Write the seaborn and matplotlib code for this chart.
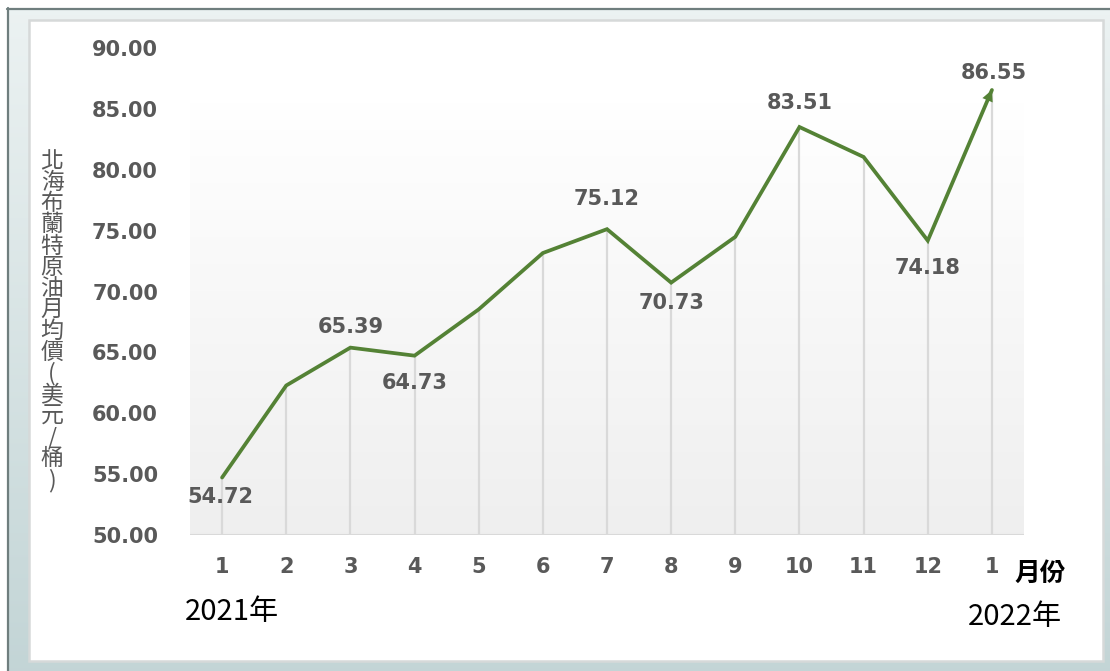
import numpy as np
import pandas as pd
import matplotlib
matplotlib.use("Agg")
import matplotlib.pyplot as plt
from matplotlib.patches import Rectangle
import seaborn as sns

# ---------------- data ----------------
months = ["1", "2", "3", "4", "5", "6", "7", "8", "9", "10", "11", "12", "1"]
prices = [54.72, 62.28, 65.39, 64.73, 68.53, 73.16, 75.12, 70.73, 74.49, 83.51, 81.05, 74.18, 86.55]
# which points carry a value label and whether it sits above or below the point
label_idx = [0, 2, 3, 6, 7, 9, 11, 12]
label_pos = ["below", "above", "below", "above", "below", "above", "below", "above"]
y_ticks = [50, 55, 60, 65, 70, 75, 80, 85, 90]
y_label = "北海布蘭特原油月均價(美元/桶)"
x_unit = "月份"
year_start = "2021年"
year_end = "2022年"

W, H = 1110, 671
sns.set_theme(style="white")
plt.rcParams["font.family"] = ["DejaVu Sans", "Noto Sans CJK TC"]

fig = plt.figure(figsize=(W / 100, H / 100), dpi=100)
fig.patch.set_facecolor("white")

# ---------------- frame / background ----------------
bg = fig.add_axes([0, 0, 1, 1], zorder=-10)
bg.axis("off")
grad = np.linspace(0, 1, 256).reshape(-1, 1)
c_top = np.array([0.925, 0.950, 0.950])
c_bot = np.array([0.765, 0.835, 0.840])
img = c_top[None, None, :] * (1 - grad[:, :, None]) + c_bot[None, None, :] * grad[:, :, None]
bg.imshow(img, extent=(7, W, H, 8), aspect="auto", zorder=0)
bg.plot([7.5, 7.5], [8, H], color="#6f7e7e", lw=1.6, zorder=1)
bg.plot([7, W], [8.5, 8.5], color="#6f7e7e", lw=1.6, zorder=1)
bg.add_patch(Rectangle((29, 20), 1074, 641, facecolor="white", edgecolor="#d6d9d9", lw=1.8, zorder=2))
bg.set_xlim(0, W)
bg.set_ylim(H, 0)

# ---------------- main axes ----------------
L, R, B, T = 190, 1024, 535, 48
ax = fig.add_axes([L / W, 1 - B / H, (R - L) / W, (B - T) / H])
ax.set_facecolor("none")

xs = np.arange(len(prices))
df = pd.DataFrame({"x": xs, "price": prices})

# plot area gradient
pg = np.linspace(0, 1, 256).reshape(-1, 1)
p_top = np.array([1.0, 1.0, 1.0])
p_bot = np.array([0.937, 0.937, 0.937])
pimg = p_top[None, None, :] * (1 - pg[:, :, None]) + p_bot[None, None, :] * pg[:, :, None]
ax.imshow(pimg, extent=(-0.5, len(prices) - 0.5, 50, 85.5), aspect="auto", zorder=0)

# drop lines
ax.vlines(xs, 50, prices, color="#d9d9d9", lw=1.6, zorder=1)
ax.axhline(50, color="#d9d9d9", lw=1.5, zorder=1)

sns.lineplot(data=df, x="x", y="price", ax=ax, color="#548235", lw=2.7, zorder=3)
line = ax.get_lines()[-1]
line.set_solid_joinstyle("miter")
ax.annotate("", xy=(xs[-1], prices[-1]), xytext=(xs[-2], prices[-2]),
            arrowprops=dict(arrowstyle="-|>", color="#548235", lw=0.01,
                            mutation_scale=20, shrinkA=0, shrinkB=0), zorder=4)

ax.set_xlim(-0.5, len(prices) - 0.5)
ax.set_ylim(50, 90)
ax.set_yticks(y_ticks)
ax.set_yticklabels([f"{v:.2f}" for v in y_ticks])
ax.set_xticks(xs)
ax.set_xticklabels(months)
ax.tick_params(axis="y", length=0, pad=23, labelsize=15, labelcolor="#595959")
ax.tick_params(axis="x", length=0, pad=16, labelsize=15, labelcolor="#595959")
for t in ax.get_xticklabels() + ax.get_yticklabels():
    t.set_fontweight("bold")
for s in ax.spines.values():
    s.set_visible(False)
ax.set_xlabel("")
ax.set_ylabel("")

# value labels
off_above = {2: 15, 6: 22, 9: 17, 12: 12}
off_below = {0: -14, 3: -20, 7: -15, 11: -20}
for i, pos in zip(label_idx, label_pos):
    dy = off_above.get(i, 15) if pos == "above" else off_below.get(i, -15)
    dx = -1.5 if i == 0 else (1.5 if i == 12 else 0)
    ax.annotate(f"{prices[i]:.2f}", xy=(xs[i], prices[i]), xytext=(dx, dy),
                textcoords="offset points", ha="center", va="center",
                fontsize=15, fontweight="bold", color="#595959", zorder=5)

# y label (stacked vertical characters, one text object)
cjk = ["Noto Sans CJK TC", "DejaVu Sans"]
fig.text(52 / W, 1 - 321 / H, "\n".join(y_label), ha="center", va="center",
         ma="center", fontsize=16.5, linespacing=0.9, color="#595959", family=cjk)

fig.text(1040 / W, 1 - 573 / H, x_unit, ha="center", va="center", fontsize=18.5,
         fontweight="bold", color="black", family=cjk)
fig.text(232 / W, 1 - 612 / H, year_start, ha="center", va="center", fontsize=21, color="black", family=cjk)
fig.text(1015 / W, 1 - 617 / H, year_end, ha="center", va="center", fontsize=21, color="black", family=cjk)

fig.savefig("out.png", dpi=100)
